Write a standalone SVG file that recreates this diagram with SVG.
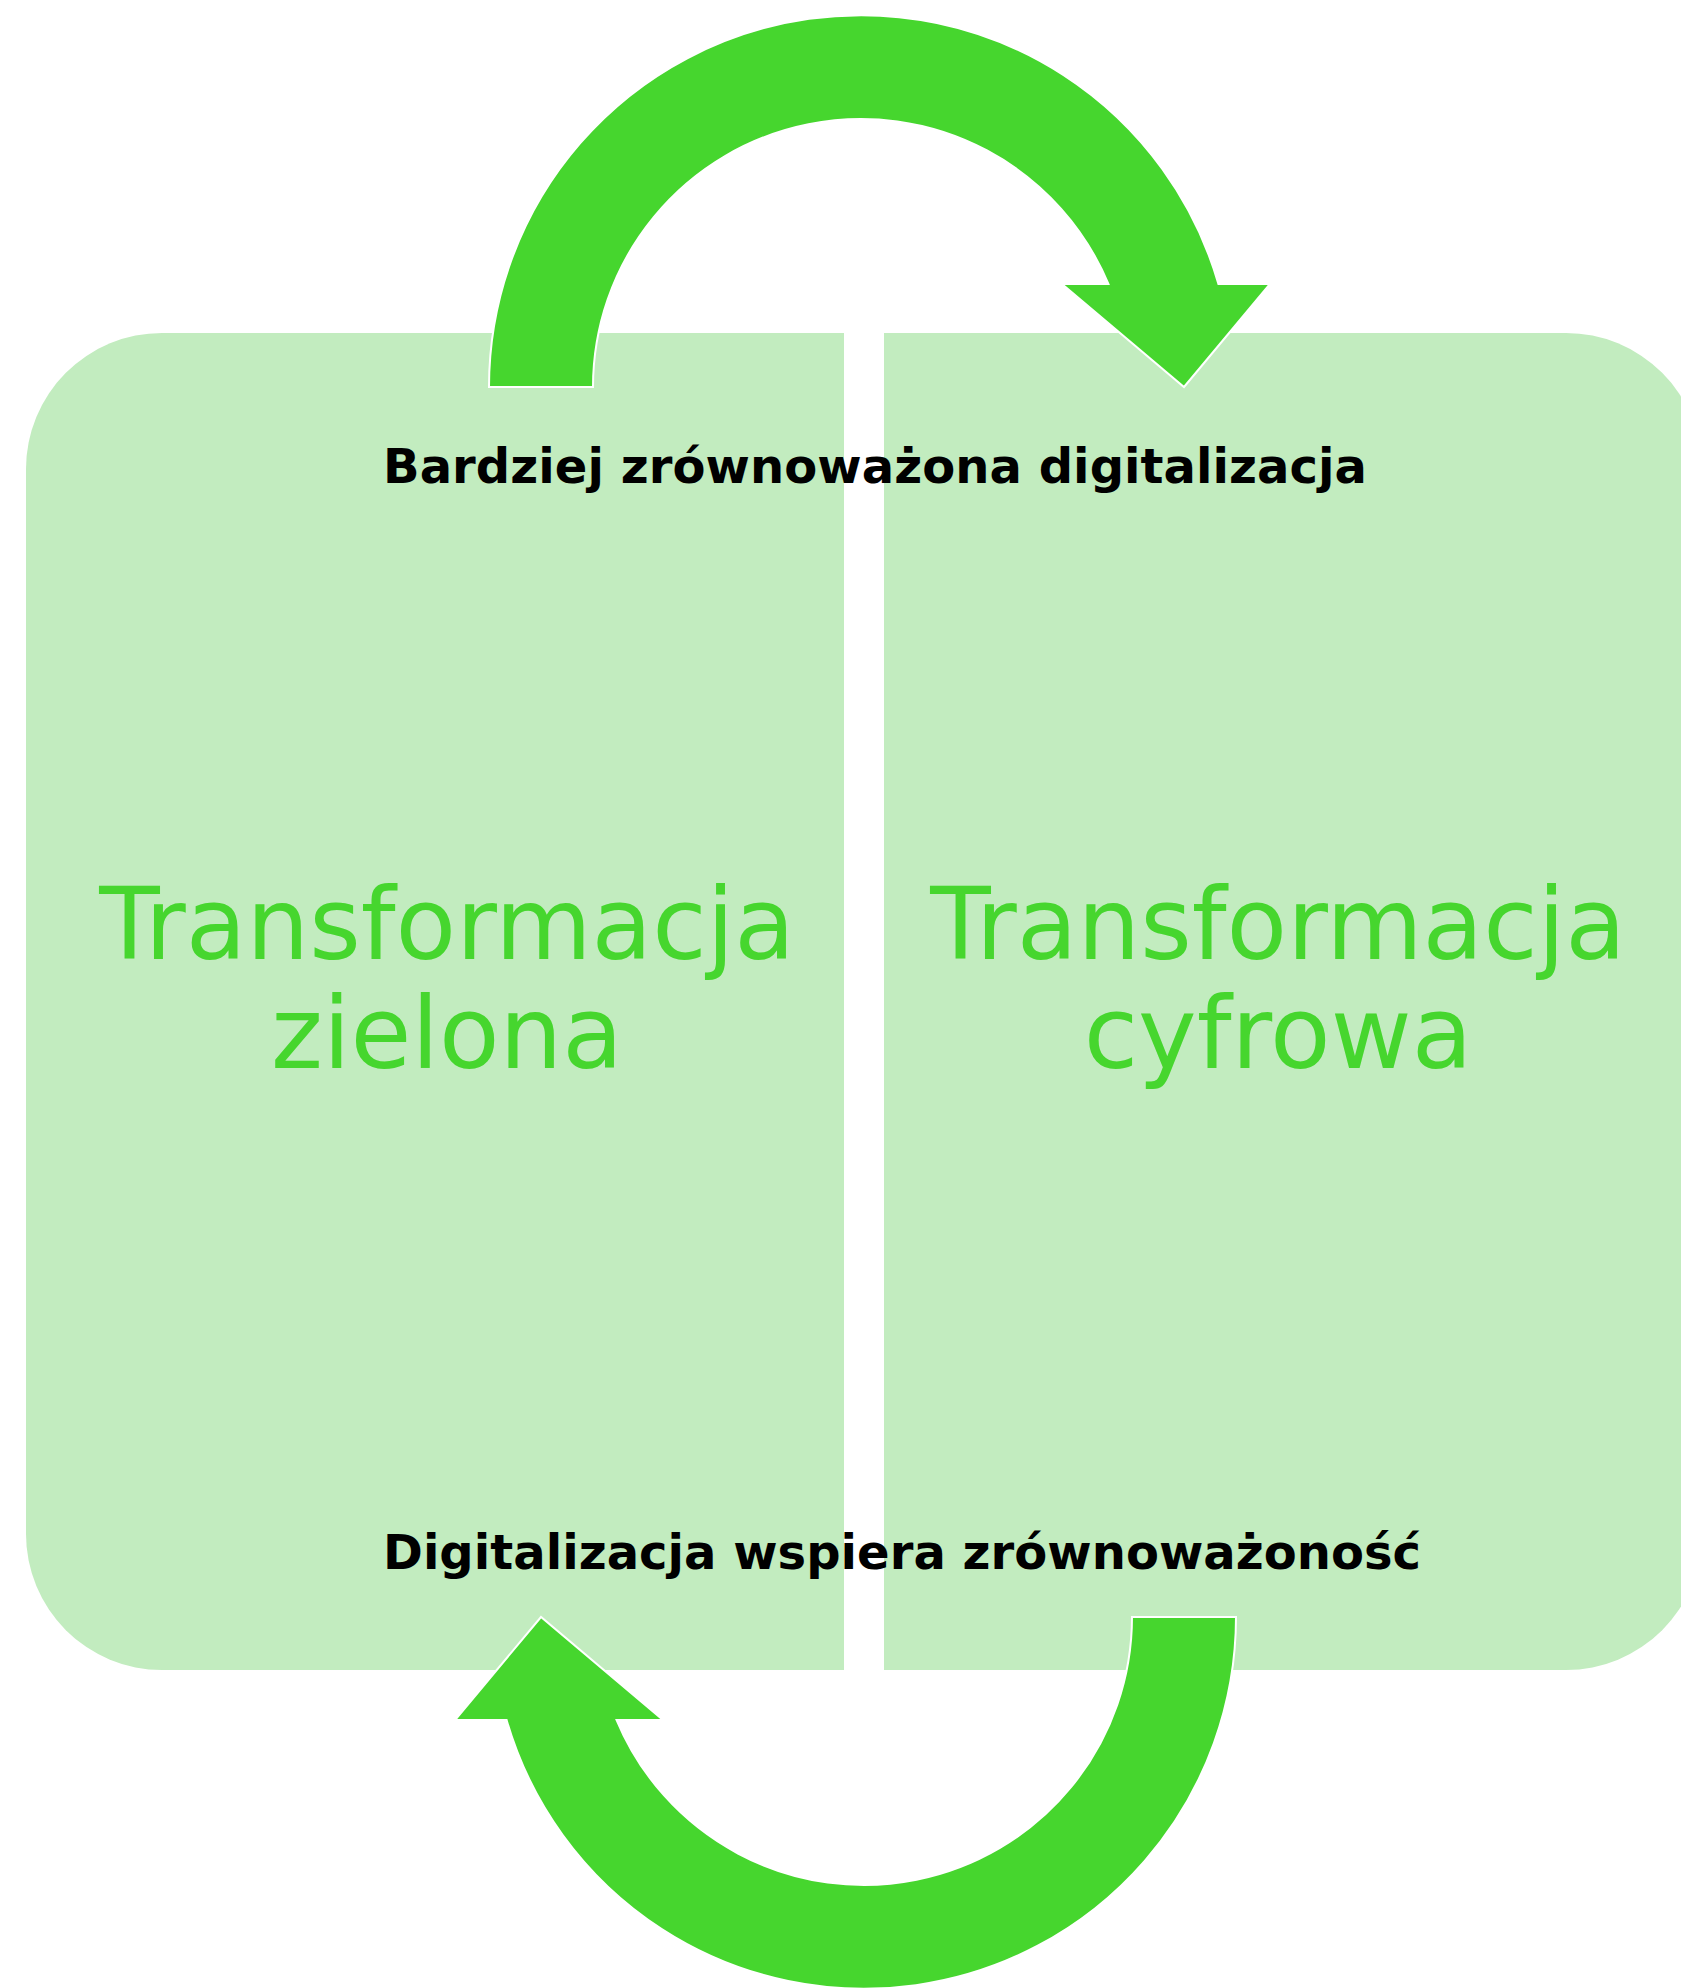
<svg xmlns="http://www.w3.org/2000/svg" width="1681" height="1988" viewBox="0 0 1681 1988">
  <style>
    .panel { fill: #C2ECBF; }
    .big { font-family: "DejaVu Sans", Verdana, sans-serif; font-size: 99px; fill: #46D62E; text-anchor: middle; }
    .label { font-family: "DejaVu Sans", Verdana, sans-serif; font-size: 48px; font-weight: bold; fill: #000000; }
    .arrow { fill: #46D62E; stroke: #FFFFFF; stroke-width: 2; stroke-linejoin: miter; }
  </style>
  <defs>
    <!-- curved block arrow, centred on its own arc origin -->
    <path id="curvedArrow" d="M -372 0 A 372 372 0 0 1 357.4 -103 L 409 -103 L 323 0 L 201 -103 L 247.4 -103 A 268 268 0 0 0 -268 0 Z"/>
  </defs>
  <rect width="1681" height="1988" fill="#FFFFFF"/>

  <g id="node-green">
    <path class="panel" d="M 844 333 L 162 333 A 136 136 0 0 0 26 469 L 26 1534 A 136 136 0 0 0 162 1670 L 844 1670 Z"/>
    <text class="big" x="447" y="959">Transformacja</text>
    <text class="big" x="447" y="1068">zielona</text>
  </g>

  <g id="node-digital">
    <path class="panel" d="M 884 333 L 1566 333 A 136 136 0 0 1 1702 469 L 1702 1534 A 136 136 0 0 1 1566 1670 L 884 1670 Z"/>
    <text class="big" x="1278" y="959">Transformacja</text>
    <text class="big" x="1278" y="1068">cyfrowa</text>
  </g>

  <g id="connectors">
    <use href="#curvedArrow" class="arrow" transform="translate(861 387)"/>
    <use href="#curvedArrow" class="arrow" transform="rotate(180 862.5 1002) translate(861 387)"/>
  </g>

  <g id="labels">
    <text class="label" x="383" y="483" textLength="984" lengthAdjust="spacing">Bardziej zrównoważona digitalizacja</text>
    <text class="label" x="383" y="1569" textLength="1038" lengthAdjust="spacing">Digitalizacja wspiera zrównoważoność</text>
  </g>
</svg>
